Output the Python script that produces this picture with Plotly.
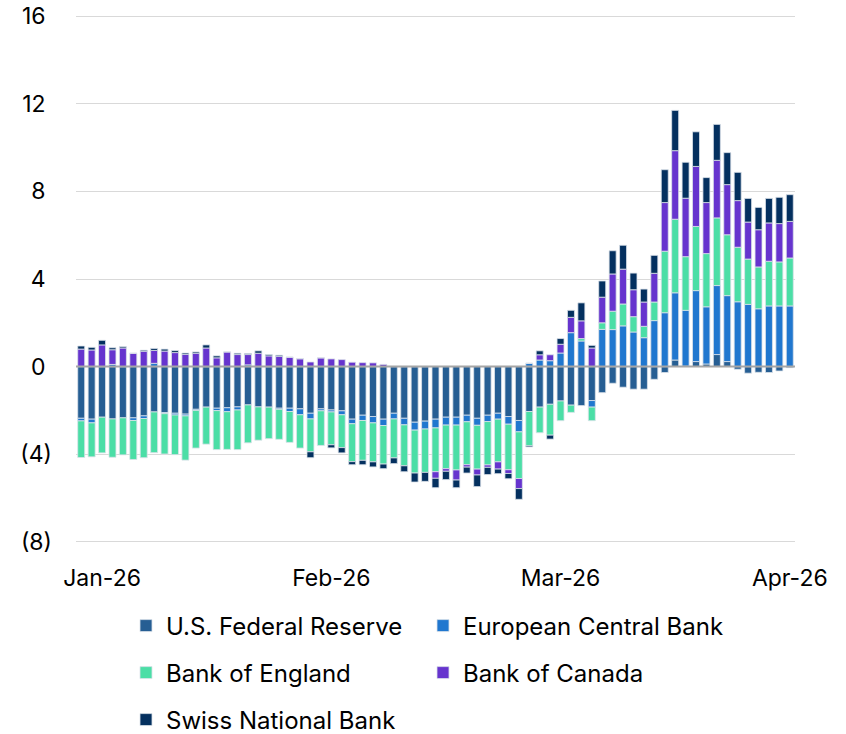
import plotly.graph_objects as go

# Daily observations (69 bars), Jan-26 .. Apr-26
n_bars = 69
x_idx = list(range(n_bars))
tick_pos = [2, 24, 46, 68]
tick_labels = ["Jan-26", "Feb-26", "Mar-26", "Apr-26"]

fed = [-2.36, -2.40, -2.31, -2.39, -2.34, -2.34, -2.25, -2.07, -2.10, -2.13,
       -2.17, -1.95, -1.85, -1.90, -1.88, -1.84, -1.75, -1.84, -1.85, -1.90,
       -1.90, -1.93, -2.13, -1.93, -1.98, -2.02, -2.40, -2.22, -2.28, -2.40,
       -2.13, -2.36, -2.54, -2.49, -2.40, -2.31, -2.31, -2.22, -2.36, -2.22,
       -2.13, -2.28, -2.46, -2.05, -1.85, -1.72, -1.57, -1.76, -1.78, -1.55,
       -1.19, -0.76, -0.94, -1.03, -1.03, -0.58, -0.27, 0.30, 0.02, 0.23,
       0.12, 0.55, 0.23, -0.12, -0.30, -0.26, -0.27, -0.20, -0.05]
ecb = [-0.12, -0.17, 0.00, 0.10, 0.00, -0.12, -0.12, 0.15, -0.05, -0.08,
       -0.08, -0.05, 0.00, -0.11, -0.18, -0.14, 0.08, 0.00, 0.00, -0.05,
       -0.15, -0.27, -0.26, -0.09, -0.09, -0.18, -0.21, -0.24, -0.29, -0.29,
       -0.26, -0.30, -0.36, -0.36, -0.40, -0.36, -0.36, -0.30, -0.32, -0.29,
       -0.27, -0.35, -0.52, 0.15, 0.30, 0.27, 0.62, 1.55, 1.17, -0.30,
       1.70, 1.69, 1.86, 1.58, 1.32, 2.10, 2.46, 3.07, 2.55, 3.24,
       2.61, 3.15, 3.01, 2.96, 2.84, 2.64, 2.77, 2.77, 2.77]
boe = [-1.67, -1.55, -1.63, -1.75, -1.69, -1.78, -1.79, -1.86, -1.84, -1.81,
       -2.02, -1.72, -1.69, -1.78, -1.72, -1.81, -1.73, -1.52, -1.44, -1.37,
       -1.41, -1.52, -1.50, -1.58, -1.50, -1.50, -1.73, -1.82, -1.78, -1.76,
       -1.78, -1.87, -1.96, -1.98, -2.00, -1.99, -2.05, -1.96, -2.00, -1.98,
       -1.95, -2.08, -2.13, -1.57, -1.17, -1.41, -0.90, -0.33, 0.11, -0.62,
       0.30, 0.84, 1.00, 0.70, 0.52, 0.85, 2.81, 3.36, 2.45, 2.93,
       2.43, 3.09, 2.78, 2.49, 2.07, 1.91, 2.04, 2.01, 2.19]
boc = [0.80, 0.76, 0.99, 0.67, 0.85, 0.61, 0.70, 0.59, 0.71, 0.64,
       0.56, 0.61, 0.85, 0.40, 0.67, 0.55, 0.47, 0.61, 0.49, 0.47,
       0.43, 0.36, 0.21, 0.40, 0.35, 0.32, 0.20, 0.18, 0.17, 0.10,
       0.00, 0.00, 0.00, 0.00, -0.30, -0.12, -0.46, -0.11, -0.27, -0.11,
       -0.33, -0.17, -0.46, 0.00, 0.24, 0.27, 0.40, 0.70, 0.81, 0.85,
       1.17, 1.70, 1.59, 1.23, 1.11, 1.31, 2.22, 3.13, 2.67, 2.74,
       2.33, 2.63, 2.29, 2.13, 1.69, 1.70, 1.75, 1.75, 1.67]
snb = [0.14, 0.12, 0.21, 0.09, 0.06, 0.00, 0.05, 0.09, 0.09, 0.09,
       0.06, 0.06, 0.14, 0.09, 0.00, 0.06, 0.05, 0.11, 0.06, 0.05,
       0.00, 0.00, -0.27, 0.00, -0.14, -0.24, -0.14, -0.20, -0.23, -0.21,
       -0.26, -0.27, -0.41, -0.41, -0.43, -0.38, -0.35, -0.27, -0.53, -0.33,
       -0.21, -0.24, -0.49, -0.05, 0.18, -0.18, 0.26, 0.32, 0.82, 0.12,
       0.74, 1.06, 1.09, 0.76, 0.59, 0.82, 1.50, 1.84, 1.64, 1.58,
       1.14, 1.64, 1.46, 1.29, 1.08, 1.02, 1.12, 1.20, 1.22]

series_names = ["U.S. Federal Reserve", "European Central Bank", "Bank of England",
                "Bank of Canada", "Swiss National Bank"]
series_values = [fed, ecb, boe, boc, snb]
series_colors = ["#265E93", "#2077CF", "#4BDEA6", "#6634CE", "#04305F"]
series_legend = ["legend", "legend2", "legend3", "legend4", "legend5"]

y_ticks = [-8, -4, 0, 4, 8, 12, 16]
y_labels = [f"({abs(v)})" if v < 0 else f"{v}\u00a0" for v in y_ticks]

FONT = "Inter"
FS = 23
LFS = 24

W, H = 846, 734

fig = go.Figure()
for name, vals, col, lg in zip(series_names, series_values, series_colors, series_legend):
    fig.add_trace(go.Bar(
        x=x_idx, y=vals, name=name, legend=lg,
        marker=dict(color=col, line=dict(color="#DCE2EA", width=0.8)),
    ))

leg_common = dict(orientation="h", xanchor="left", yanchor="middle",
                  xref="container", yref="container",
                  font=dict(family=FONT, size=LFS, color="#000000"),
                  bgcolor="rgba(0,0,0,0)", borderwidth=0, itemclick=False)

col1_x, col2_x = 126 / W, 423 / W
row1_y, row2_y, row3_y = 1 - 626 / H, 1 - 673 / H, 1 - 720 / H

fig.update_layout(
    width=W, height=H,
    margin=dict(l=76, r=51, t=14, b=190, autoexpand=False),
    paper_bgcolor="white", plot_bgcolor="white",
    barmode="relative", bargap=0.33,
    font=dict(family=FONT, size=FS, color="#000000"),
    xaxis=dict(range=[-0.5, 68.5], tickmode="array", tickvals=tick_pos,
               ticktext=tick_labels, showgrid=False, zeroline=False,
               showline=False, ticks="", ticklabelstandoff=18, automargin=False,
               ticklabeloverflow="allow",
               tickfont=dict(family=FONT, size=FS, color="#000000")),
    yaxis=dict(range=[-8.1, 16.1], tickmode="array", tickvals=y_ticks,
               ticktext=y_labels, showgrid=True, gridcolor="#D9D9D9",
               gridwidth=1, zeroline=False, showline=False, ticks="",
               ticklabelstandoff=23, automargin=False,
               ticklabeloverflow="allow",
               tickfont=dict(family=FONT, size=FS, color="#000000")),
    legend=dict(x=col1_x, y=row1_y, **leg_common),
    legend2=dict(x=col2_x, y=row1_y, **leg_common),
    legend3=dict(x=col1_x, y=row2_y, **leg_common),
    legend4=dict(x=col2_x, y=row2_y, **leg_common),
    legend5=dict(x=col1_x, y=row3_y, **leg_common),
    showlegend=True,
)
fig.add_hline(y=0, line=dict(color="#A6A6A6", width=2), layer="above")

# remove the browser's default 8px page margin so the figure fills the window
fig.write_html("out.html", config={"displayModeBar": False},
               post_script="document.body.style.margin='0px';")
